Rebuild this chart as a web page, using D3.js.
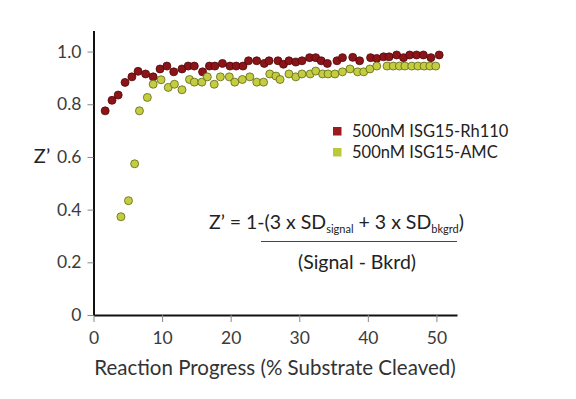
<!DOCTYPE html>
<html>
<head>
<meta charset="utf-8">
<script src="https://cdn.jsdelivr.net/npm/d3@7"></script>
<style>
  body { margin: 0; background: #fff; }
  text { font-family: Lato, "Open Sans", sans-serif; }
</style>
</head>
<body>
<div id="chart"></div>
<script>
// Z' factor vs reaction progress
const rh110X = [1.7, 2.7, 3.6, 4.6, 5.6, 6.5, 7.6, 8.7, 9.7, 10.7, 11.7, 12.9, 13.8, 14.7, 15.9, 16.9,
  17.7, 18.8, 19.9, 20.8, 21.8, 22.6, 23.8, 24.9, 25.6, 26.9, 27.7, 28.5, 29.5, 30.4, 31.5, 32.4,
  33.2, 34.1, 35.5, 36.3, 37.8, 38.8, 40.4, 41.3, 42.3, 43.1, 44.2, 45.2, 46.1, 47.1, 48.1, 49.2, 50.4];
const rh110Y = [0.775, 0.815, 0.835, 0.883, 0.904, 0.925, 0.915, 0.904, 0.934, 0.945, 0.923, 0.934, 0.945, 0.945, 0.923, 0.945,
  0.945, 0.955, 0.945, 0.945, 0.945, 0.965, 0.965, 0.955, 0.965, 0.965, 0.952, 0.965, 0.96, 0.965, 0.977, 0.977,
  0.965, 0.955, 0.965, 0.977, 0.978, 0.965, 0.977, 0.974, 0.98, 0.98, 0.987, 0.977, 0.987, 0.987, 0.987, 0.977, 0.987];

const amcX = [4.0, 5.1, 6.0, 6.7, 7.85, 8.7, 9.85, 10.9, 11.8, 12.9, 14.0, 14.7, 15.8, 16.6, 17.6, 18.5,
  19.8, 20.6, 21.7, 22.8, 23.8, 24.8, 25.7, 26.6, 27.2, 28.5, 29.5, 30.4, 31.6, 32.4, 33.4, 34.2,
  35.2, 36.3, 37.4, 38.5, 39.4, 40.3, 41.3, 42.8, 43.7, 44.6, 45.4, 46.4, 47.3, 48.2, 49.05, 49.9];
const amcY = [0.373, 0.434, 0.574, 0.775, 0.826, 0.876, 0.893, 0.864, 0.876, 0.855, 0.894, 0.884, 0.884, 0.904, 0.876, 0.904,
  0.904, 0.884, 0.894, 0.904, 0.884, 0.884, 0.915, 0.907, 0.894, 0.915, 0.904, 0.915, 0.915, 0.926, 0.915, 0.915,
  0.915, 0.923, 0.934, 0.923, 0.923, 0.934, 0.945, 0.945, 0.945, 0.945, 0.945, 0.945, 0.945, 0.945, 0.945, 0.945];

const xTicks = [0, 10, 20, 30, 40, 50];
const yTicks = [0, 0.2, 0.4, 0.6, 0.8, 1.0];
const seriesNames = ['500nM ISG15-Rh110', '500nM ISG15-AMC'];

const width = 576, height = 399;

const svg = d3.select('#chart').append('svg')
    .attr('width', width)
    .attr('height', height);

const x = d3.scaleLinear().domain([0, 53]).range([93.5, 457]);
const y = d3.scaleLinear().domain([0, 1.08]).range([315, 30.5]);

const series = [
  {name: seriesNames[0], fill: '#8c1418', stroke: '#4e0a0c', key: '#9b1b1f',
   pts: rh110X.map((v, i) => ({x: v, y: rh110Y[i]}))},
  {name: seriesNames[1], fill: '#c3cd3f', stroke: '#5e6618', key: '#bac93a',
   pts: amcX.map((v, i) => ({x: v, y: amcY[i]}))}
];

// axes
const xAxis = svg.append('g')
    .attr('transform', `translate(0,${y(0)})`)
    .call(d3.axisBottom(x).tickValues(xTicks).tickSize(7).tickSizeOuter(0).tickPadding(10));

const yAxis = svg.append('g')
    .attr('transform', `translate(${x(0)},0)`)
    .call(d3.axisLeft(y).tickValues(yTicks).tickSize(6).tickSizeOuter(0).tickPadding(6)
      .tickFormat(d => d === 0 ? '0' : d3.format('.1f')(d)));

[xAxis, yAxis].forEach(a => {
  a.select('.domain').attr('stroke', '#111').attr('stroke-width', 2);
  a.selectAll('.tick line').attr('stroke', '#888').attr('stroke-width', 1);
  a.selectAll('.tick text')
      .attr('font-size', 17.5)
      .attr('fill', '#3b3b3b')
      .attr('font-family', 'Lato, sans-serif');
});

// points
series.forEach(s => {
  svg.append('g')
    .selectAll('circle')
    .data(s.pts)
    .join('circle')
      .attr('cx', d => x(d.x))
      .attr('cy', d => y(d.y))
      .attr('r', 4)
      .attr('fill', s.fill)
      .attr('stroke', s.stroke)
      .attr('stroke-width', 0.8);
});

// axis titles
svg.append('text')
    .attr('x', 275)
    .attr('y', 375)
    .attr('text-anchor', 'middle')
    .attr('font-size', 20.5)
    .attr('fill', '#333')
    .text('Reaction Progress (% Substrate Cleaved)');

svg.append('text')
    .attr('x', 42)
    .attr('y', 163)
    .attr('text-anchor', 'middle')
    .attr('font-size', 20)
    .attr('fill', '#222')
    .text('Z’');

// legend
const legend = svg.append('g').attr('transform', 'translate(333,131)');
series.forEach((s, i) => {
  const row = legend.append('g').attr('transform', `translate(0,${i * 21})`);
  row.append('rect')
      .attr('x', 0).attr('y', -4)
      .attr('width', 8.5).attr('height', 8.5)
      .attr('fill', s.key);
  row.append('text')
      .attr('x', 19)
      .attr('y', 6)
      .attr('font-size', 16.5)
      .attr('fill', '#222')
      .text(s.name);
});

// formula
const formula = svg.append('g').attr('fill', '#222');
const num = formula.append('text')
    .attr('x', 209)
    .attr('y', 229)
    .attr('font-size', 19.5);
num.append('tspan').text('Z’ = 1-(3 x SD');
num.append('tspan').attr('font-size', 11).attr('dy', 4).text('signal');
num.append('tspan').attr('dy', -4).text(' + 3 x SD');
num.append('tspan').attr('font-size', 11).attr('dy', 4).text('bkgrd');
num.append('tspan').attr('dy', -4).text(')');

formula.append('line')
    .attr('x1', 261).attr('x2', 457)
    .attr('y1', 241.5).attr('y2', 241.5)
    .attr('stroke', '#444')
    .attr('stroke-width', 1);

formula.append('text')
    .attr('x', 357)
    .attr('y', 269)
    .attr('text-anchor', 'middle')
    .attr('font-size', 19.5)
    .text('(Signal - Bkrd)');
</script>
</body>
</html>
